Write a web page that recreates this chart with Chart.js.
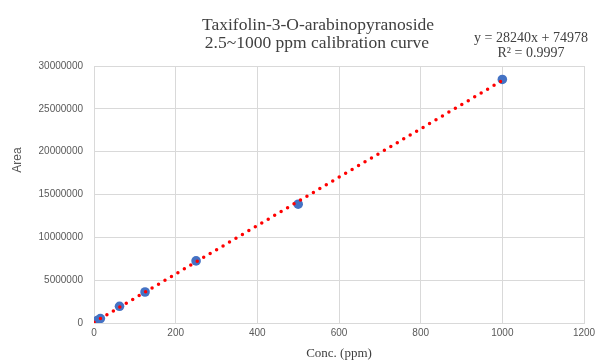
<!DOCTYPE html>
<html>
<head>
<meta charset="utf-8">
<script src="https://cdn.jsdelivr.net/npm/chart.js@4.4.1/dist/chart.umd.min.js"></script>
<style>
  body { margin: 0; background: #fff; }
  #wrap { width: 595px; height: 361px; }
</style>
</head>
<body>
<div id="wrap"><canvas id="calChart" width="595" height="361"></canvas></div>
<script>
// calibration standards (ppm) and measured peak areas
const conc = [2.5, 7.8, 15.6, 62.5, 125, 250, 500, 1000];
const area = [120000, 290000, 520000, 1950000, 3620000, 7250000, 13870000, 28430000];

// linear fit shown on the chart
const slope = 28240;
const intercept = 74978;
const rSquared = 0.9997;
const fitRange = [0, 1000];

const titleLines = ['Taxifolin-3-O-arabinopyranoside', '2.5~1000 ppm calibration curve'];
const xTicks = [0, 200, 400, 600, 800, 1000, 1200];
const yTicks = [0, 5000000, 10000000, 15000000, 20000000, 25000000, 30000000];

const points = conc.map(function (c, i) { return { x: c, y: area[i] }; });
const fitLine = fitRange.map(function (c) { return { x: c, y: slope * c + intercept }; });

// title, equation and y axis caption, drawn where Excel put them
const annotations = {
    id: 'annotations',
    afterDraw: function (chart) {
        const ctx = chart.ctx;
        ctx.save();
        ctx.fillStyle = '#404040';
        ctx.textAlign = 'center';
        ctx.textBaseline = 'alphabetic';
        ctx.font = '17.5px "Liberation Serif"';
        ctx.fillText(titleLines[0], 318, 30);
        ctx.fillText(titleLines[1], 317, 48);

        ctx.font = '14px "Liberation Serif"';
        ctx.fillText('y = ' + slope + 'x + ' + intercept, 531, 42);
        ctx.fillText('R\u00b2 = ' + rSquared, 531, 57);

        ctx.fillStyle = '#595959';
        ctx.font = '12px "Liberation Sans"';
        ctx.translate(18, 160);
        ctx.rotate(-Math.PI / 2);
        ctx.textBaseline = 'middle';
        ctx.fillText('Area', 0, 0);
        ctx.restore();
    }
};

new Chart(document.getElementById('calChart'), {
    data: {
        datasets: [{
            type: 'line',
            label: 'Linear fit',
            data: fitLine,
            borderColor: '#ff0000',
            borderWidth: 3.5,
            borderDash: [0, 7.5],
            borderCapStyle: 'round',
            pointRadius: 0,
            fill: false,
            order: 0
        }, {
            type: 'scatter',
            label: 'Area',
            data: points,
            backgroundColor: '#4472c4',
            borderWidth: 0,
            pointRadius: 4.8,
            order: 1
        }]
    },
    options: {
        responsive: false,
        animation: false,
        layout: { padding: { top: 66, right: 11, left: 0, bottom: 0 } },
        plugins: {
            legend: { display: false },
            tooltip: { enabled: false },
            title: { display: false }
        },
        scales: {
            x: {
                type: 'linear',
                min: 0,
                max: 1200,
                afterBuildTicks: function (scale) {
                    scale.ticks = xTicks.map(function (v) { return { value: v }; });
                },
                afterFit: function (scale) {
                    scale.height = 38;
                    scale.paddingLeft = 0;
                    scale.paddingRight = 0;
                },
                grid: { color: '#d9d9d9', drawTicks: false },
                border: { color: '#d9d9d9' },
                ticks: {
                    color: '#595959',
                    font: { family: 'Liberation Sans', size: 10 },
                    padding: 4,
                    maxRotation: 0,
                    callback: function (v) { return String(v); }
                },
                title: {
                    display: true,
                    text: 'Conc. (ppm)',
                    color: '#404040',
                    font: { family: 'Liberation Serif', size: 13 },
                    padding: 0
                }
            },
            y: {
                type: 'linear',
                min: 0,
                max: 30000000,
                afterBuildTicks: function (scale) {
                    scale.ticks = yTicks.map(function (v) { return { value: v }; });
                },
                afterFit: function (scale) { scale.width = 94; },
                grid: { color: '#d9d9d9', drawTicks: false },
                border: { color: '#d9d9d9' },
                ticks: {
                    color: '#595959',
                    font: { family: 'Liberation Sans', size: 10 },
                    padding: 11,
                    callback: function (v) { return String(v); }
                }
            }
        }
    },
    plugins: [annotations]
});
</script>
</body>
</html>
